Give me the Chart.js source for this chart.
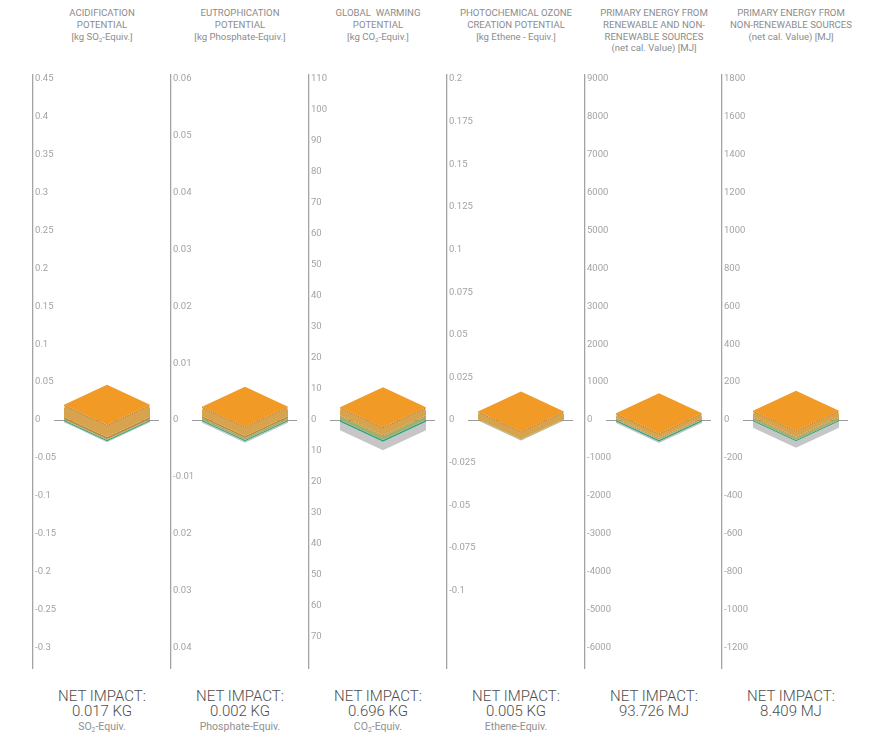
<!DOCTYPE html>
<html>
<head>
<meta charset="utf-8">
<script src="https://cdn.jsdelivr.net/npm/chart.js@4.4.1/dist/chart.umd.min.js"></script>
<style>
html,body{margin:0;padding:0;background:#fff;width:875px;height:738px;overflow:hidden;font-family:Roboto,"Open Sans",sans-serif;}
.hdr{position:absolute;top:7px;width:160px;text-align:center;font-size:9.6px;line-height:11.8px;color:#8c8c8c;white-space:nowrap;font-weight:400;}
.ftr{position:absolute;top:689px;width:160px;text-align:center;color:#4e4e4e;white-space:nowrap;}
.ftr .a{font-size:15px;line-height:15px;font-weight:300;}
.ftr .c{font-size:10.5px;line-height:15px;color:#909090;font-weight:400;}
sub{font-size:65%;vertical-align:-0.35em;line-height:0;}
canvas{position:absolute;}
</style>
</head>
<body>
<script>
// ---------- DATA ----------
const categories = ['Acidification', 'Eutrophication', 'Global warming', 'Photochemical ozone', 'Primary energy (total)', 'Primary energy (non-renewable)'];

const panelTitles = [
  ['ACIDIFICATION', 'POTENTIAL', '[kg SO<sub>2</sub>-Equiv.]'],
  ['EUTROPHICATION', 'POTENTIAL', '[kg Phosphate-Equiv.]'],
  ['GLOBAL&nbsp; WARMING', 'POTENTIAL', '[kg CO<sub>2</sub>-Equiv.]'],
  ['PHOTOCHEMICAL OZONE', 'CREATION POTENTIAL', '[kg Ethene - Equiv.]'],
  ['PRIMARY ENERGY FROM', 'RENEWABLE AND NON-', 'RENEWABLE SOURCES', '(net cal. Value) [MJ]'],
  ['PRIMARY ENERGY FROM', 'NON-RENEWABLE SOURCES', '(net cal. Value) [MJ]']
];

const netImpactValues = ['0.017 KG', '0.002 KG', '0.696 KG', '0.005 KG', '93.726 MJ', '8.409 MJ'];
const netImpactUnits = ['SO<sub>2</sub>-Equiv.', 'Phosphate-Equiv.', 'CO<sub>2</sub>-Equiv.', 'Ethene-Equiv.', '', ''];

// layer values per panel (positive layers stack upward from 0, negative downward)
const greenLayer  = [0.001,  0.00035, 1.2,  0.0002,  25,  12];
const brownLayer  = [0.003,  0.00035, 0.3,  0.0003,  25,  5];
const orangeLayer = [0.016,  0.00164, 2.6,  0.0045,  125, 32];
const tealLayer   = [-0.0015, -0.0002, -0.6, -0.0001, -40, -6];
const greyLayer   = [-0.0015, -0.0003, -2.7, -0.0002, -40, -35];

// axis tick values and their printed labels
const tickValues = [
  [0.45, 0.4, 0.35, 0.3, 0.25, 0.2, 0.15, 0.1, 0.05, 0, -0.05, -0.1, -0.15, -0.2, -0.25, -0.3],
  [0.06, 0.05, 0.04, 0.03, 0.02, 0.01, 0, -0.01, -0.02, -0.03, -0.04],
  [110, 100, 90, 80, 70, 60, 50, 40, 30, 20, 10, 0, -10, -20, -30, -40, -50, -60, -70],
  [0.2, 0.175, 0.15, 0.125, 0.1, 0.075, 0.05, 0.025, 0, -0.025, -0.05, -0.075, -0.1],
  [9000, 8000, 7000, 6000, 5000, 4000, 3000, 2000, 1000, 0, -1000, -2000, -3000, -4000, -5000, -6000],
  [1800, 1600, 1400, 1200, 1000, 800, 600, 400, 200, 0, -200, -400, -600, -800, -1000, -1200]
];
const tickLabels = [
  ['0.45', '0.4', '0.35', '0.3', '0.25', '0.2', '0.15', '0.1', '0.05', '0', '-0.05', '-0.1', '-0.15', '-0.2', '-0.25', '-0.3'],
  ['0.06', '0.05', '0.04', '0.03', '0.02', '0.01', '0', '-0.01', '0.02', '0.03', '0.04'],
  ['110', '100', '90', '80', '70', '60', '50', '40', '30', '20', '10', '0', '10', '20', '30', '40', '50', '60', '70'],
  ['0.2', '0.175', '0.15', '0.125', '0.1', '0.075', '0.05', '0.025', '0', '-0.025', '-0.05', '-0.075', '-0.1'],
  ['9000', '8000', '7000', '6000', '5000', '4000', '3000', '2000', '1000', '0', '-1000', '-2000', '-3000', '-4000', '-5000', '-6000'],
  ['1800', '1600', '1400', '1200', '1000', '800', '600', '400', '200', '0', '-200', '-400', '-600', '-800', '-1000', '-1200']
];
const topTick = [0.45, 0.06, 110, 0.2, 9000, 1800];

// ---------- STYLE / LAYOUT ----------
const PANEL_X = [33, 171, 309, 447, 585, 722];
const CANVAS_W = 180, AREA_W = 148;
const layers = [
  {name: 'Layer A', values: greenLayer,  color: '#9fb06a'},
  {name: 'Layer B', values: brownLayer,  color: '#bb8c3c'},
  {name: 'Layer C', values: orangeLayer, color: '#d8a34e'},
  {name: 'Layer D', values: tealLayer,   color: '#2f9e86'},
  {name: 'Layer E', values: greyLayer,   color: '#c6c6c6'}
];
const TOP_FACE = '#f29a26';

const isoBox = {
  id: 'isoBox',
  beforeDatasetsDraw(chart) {
    const ctx = chart.ctx;
    const el = chart.getDatasetMeta(0).data[0];
    const y0 = Math.round(chart.scales.y.getPixelForValue(0)) + 0.5;
    const hw = el.width / 2;
    ctx.save();
    ctx.strokeStyle = '#9a9a9a';
    ctx.lineWidth = 1.2;
    ctx.beginPath();
    ctx.moveTo(el.x - hw - 10, y0);
    ctx.lineTo(el.x + hw + 9, y0);
    ctx.stroke();
    ctx.restore();
  },
  beforeDatasetDraw() { return false; },
  afterDatasetsDraw(chart) {
    const ctx = chart.ctx;
    const items = [];
    chart.data.datasets.forEach((ds, i) => {
      const el = chart.getDatasetMeta(i).data[0];
      if (!el) return;
      items.push({top: Math.min(el.y, el.base), bot: Math.max(el.y, el.base), x: el.x, hw: el.width / 2, color: ds.backgroundColor});
    });
    if (!items.length) return;
    const x = items[0].x, hw = items[0].hw, dh = hw * 0.465;
    items.sort((a, b) => b.bot - a.bot);
    ctx.save();
    items.forEach(it => {
      ctx.fillStyle = it.color;
      ctx.beginPath();
      ctx.moveTo(x - hw, it.top); ctx.lineTo(x, it.top + dh); ctx.lineTo(x, it.bot + dh); ctx.lineTo(x - hw, it.bot);
      ctx.closePath(); ctx.fill();
      ctx.beginPath();
      ctx.moveTo(x, it.top + dh); ctx.lineTo(x + hw, it.top); ctx.lineTo(x + hw, it.bot); ctx.lineTo(x, it.bot + dh);
      ctx.closePath(); ctx.fill();
    });
    const topY = Math.min(...items.map(it => it.top));
    ctx.strokeStyle = 'rgba(250,215,150,0.9)';
    ctx.lineWidth = 1;
    ctx.beginPath();
    ctx.moveTo(x - hw + 0.5, topY); ctx.lineTo(x - hw + 0.5, topY + 3);
    ctx.moveTo(x + hw - 0.5, topY); ctx.lineTo(x + hw - 0.5, topY + 3);
    ctx.stroke();
    ctx.fillStyle = TOP_FACE;
    ctx.beginPath();
    ctx.moveTo(x - hw, topY); ctx.lineTo(x, topY - dh); ctx.lineTo(x + hw, topY); ctx.lineTo(x, topY + dh);
    ctx.closePath(); ctx.fill();
    ctx.strokeStyle = 'rgba(170,100,20,0.7)';
    ctx.setLineDash([1, 1.5]);
    ctx.beginPath();
    ctx.moveTo(x - hw, topY + 0.5); ctx.lineTo(x, topY + dh + 0.5); ctx.lineTo(x + hw, topY + 0.5);
    ctx.stroke();
    ctx.restore();
  }
};

PANEL_X.forEach((ax, i) => {
  const center = ax + 69;
  const hdr = document.createElement('div');
  hdr.className = 'hdr';
  hdr.style.left = (center - 80) + 'px';
  hdr.innerHTML = panelTitles[i].join('<br>');
  document.body.appendChild(hdr);

  const ftr = document.createElement('div');
  ftr.className = 'ftr';
  ftr.style.left = (center - 80) + 'px';
  ftr.innerHTML = '<div class="a">NET IMPACT:</div><div class="a">' + netImpactValues[i] + '</div><div class="c">' + netImpactUnits[i] + '</div>';
  document.body.appendChild(ftr);

  const cv = document.createElement('canvas');
  cv.width = CANVAS_W; cv.height = 620;
  cv.style.left = (ax - 5) + 'px';
  cv.style.top = '60px';
  document.body.appendChild(cv);

  const chart = new Chart(cv, {
    type: 'bar',
    data: {
      labels: [categories[i]],
      datasets: layers.map(L => ({label: L.name, data: [L.values[i]], backgroundColor: L.color, borderWidth: 0, barThickness: 86}))
    },
    options: {
      responsive: false,
      animation: false,
      layout: {padding: {left: 5, top: 15, bottom: 12, right: 10}},
      plugins: {legend: {display: false}, tooltip: {enabled: false}},
      scales: {
        x: {display: false, stacked: true},
        y: {
          stacked: true,
          position: 'left',
          min: -topTick[i] * 248 / 341,
          max: topTick[i] * 345 / 341,
          grid: {display: false, drawTicks: false, tickLength: 0},
          border: {display: true, color: '#a3a3a3', width: 1.3},
          afterBuildTicks: s => { s.ticks = tickValues[i].map(v => ({value: v})); },
          ticks: {
            mirror: true, padding: 2, autoSkip: false,
            color: '#a3a3a3', font: {size: 9.5, family: 'Roboto'},
            callback: (v, idx) => tickLabels[i][idx]
          }
        }
      }
    },
    plugins: [isoBox]
  });
  const L = chart.chartArea.left;
  cv.style.left = (ax - L) + 'px';
  chart.options.layout.padding.right = Math.max(0, CANVAS_W - L - AREA_W);
  chart.update();
});
</script>
</body>
</html>
